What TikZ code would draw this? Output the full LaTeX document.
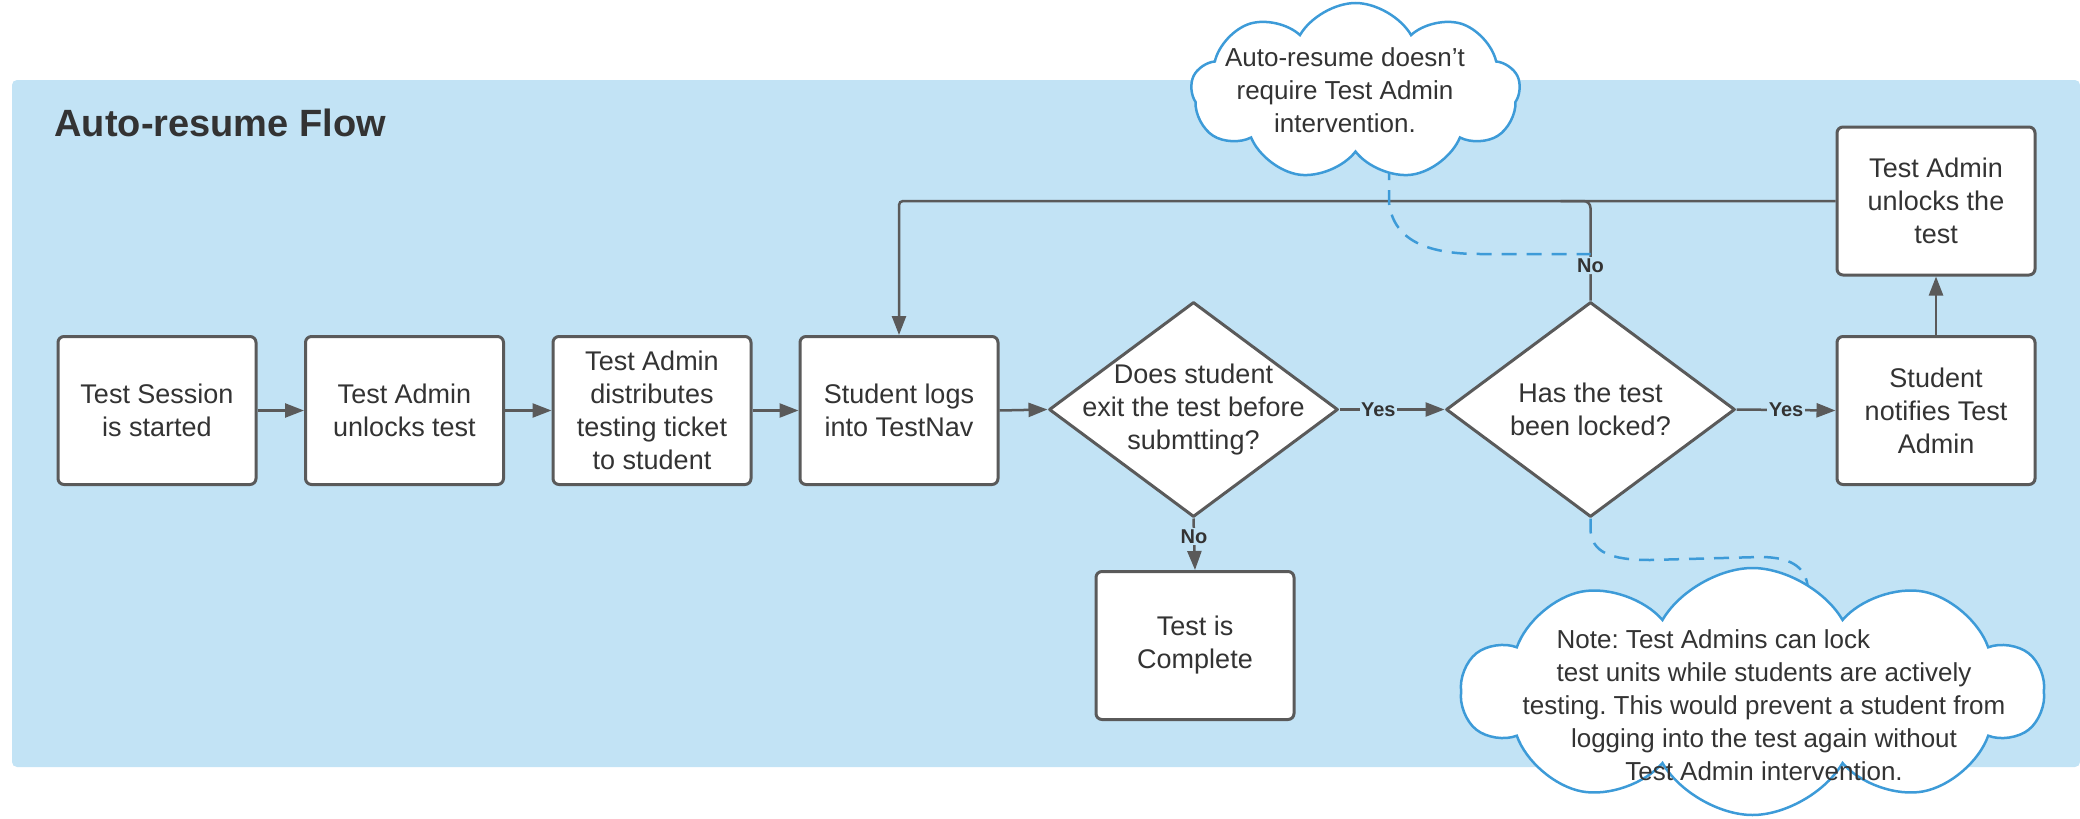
\documentclass[tikz,border=0pt]{standalone}
\usepackage{fontspec}
\setmainfont{Liberation Sans}
\usetikzlibrary{shapes.geometric,shapes.symbols,arrows.meta,calc}
\definecolor{panel}{HTML}{C2E3F5}
\definecolor{edge}{HTML}{5A5A5A}
\definecolor{ink}{HTML}{333333}
\definecolor{note}{HTML}{3D9BD8}
\pgfdeclarelayer{bg}
\pgfdeclarelayer{links}
\pgfsetlayers{bg,links,main}
\frenchspacing

\begin{document}
\begin{tikzpicture}[x=1pt,y=-1pt,
  every node/.style={text=ink},
  stepbox/.style={rectangle, draw=edge, fill=white, line width=3pt, rounded corners=6pt,
    minimum width=198pt, minimum height=148pt, inner sep=0pt, align=center,
    font=\fontsize{27}{33}\selectfont},
  decision/.style={diamond, draw=edge, fill=white, line width=3pt, line join=round,
    minimum width=289pt, minimum height=215pt, inner sep=0pt},
  qtext/.style={align=center, font=\fontsize{27}{33}\selectfont},
  flow/.style={draw=edge, line width=2.5pt},
  arr/.style={flow, -{Triangle[length=19pt,width=14pt]}},
  lbl/.style={fill=panel, inner sep=1.5pt, font=\bfseries\fontsize{20}{22}\selectfont},
  bubble/.style={cloud, cloud puffs=9, cloud puff arc=120, cloud ignores aspect,
    draw=note, fill=white, line width=2.5pt, inner sep=0pt},
  notetext/.style={align=center, font=\fontsize{26}{33}\selectfont},
  notelink/.style={draw=note, line width=2.5pt, dash pattern=on 15pt off 10pt},
]
\useasboundingbox (0,0) rectangle (2080,819);

% background panel
\begin{pgfonlayer}{bg}
  \fill[panel, rounded corners=5pt] (12,80) rectangle (2080,767);
\end{pgfonlayer}

\node[anchor=west, font=\bfseries\fontsize{38}{40}\selectfont] (title) at (51,123) {Auto-resume Flow};

% process steps
\node[stepbox] (start)  at (157,410.5)  {Test Session\\is started};
\node[stepbox] (unlock) at (404.5,410.5) {Test Admin\\unlocks test};
\node[stepbox] (ticket) at (652,410.5)  {Test Admin\\distributes\\testing ticket\\to student};
\node[stepbox] (login)  at (899,410.5)  {Student logs\\into TestNav};
\node[decision, label={[qtext]center:{Does student\\exit the test before\\submtting?}}] (exit) at (1193.5,409.5) {};
\node[decision, label={[qtext]center:{Has the test\\been locked?}}] (locked) at (1590.5,409.5) {};
\node[stepbox] (notify) at (1936,410.5) {Student\\notifies Test\\Admin};
\node[stepbox] (reopen) at (1936,201)   {Test Admin\\unlocks the\\test};
\node[stepbox] (done)   at (1195,645.5) {Test is\\Complete};

% notes
\node[bubble, minimum width=329pt, minimum height=177pt] (cloudA) at (1355.5,91.5) {};
\node[notetext] (noteA) at (1345,90) {Auto-resume doesn’t\\require Test Admin\\intervention.};
\node[bubble, cloud puffs=10, minimum width=581pt, minimum height=247pt] (cloudB) at (1752.5,691.5) {};
\node[notetext] (noteB) at (1764,705)
  {\rlap{Note: Test Admins can lock}\phantom{test units while students are actively}\\
   test units while students are actively\\
   testing. This would prevent a student from\\
   logging into the test again without\\
   Test Admin intervention.};

% connectors
\begin{pgfonlayer}{links}
  \draw[arr] (start.east) -- (unlock.west);
  \draw[arr] (unlock.east) -- (ticket.west);
  \draw[arr] (ticket.east) -- (login.west);
  \draw[arr] (login.east) -- (exit.west);
  \draw[arr] (exit.east) -- node[lbl, pos=0.37] {Yes} (locked.west);
  \draw[arr] (locked.east) -- node[lbl, pos=0.5] {Yes} (notify.west);
  \draw[arr] (exit.south) -- node[lbl, pos=0.35] {No} (done.north);
  \draw[arr] (notify.north) -- (reopen.south);
  \draw[arr, rounded corners=4pt] (reopen.west) -- (reopen.west -| login.north) -- (login.north);
  \coordinate (joinA) at (locked.north |- reopen.west);
  \draw[flow, rounded corners=7pt] (locked.north) -- node[lbl, pos=0.35] {No} (joinA) -- ++(-30,0);
  % note links
  \coordinate (tapA) at (1590.5,254);
  \draw[notelink] (1389,165) -- (1389,203)
     .. controls (1394,242) and (1430,254) .. (1480,254) -- (tapA);
  \draw[notelink] (locked.south) -- ++(0,12)
     .. controls (1592,552) and (1610,560) .. (1650,560) -- (1760,557)
     .. controls (1795,557) and (1808,570) .. (1808,592) -- (1808,620);
\end{pgfonlayer}
\end{tikzpicture}
\end{document}
